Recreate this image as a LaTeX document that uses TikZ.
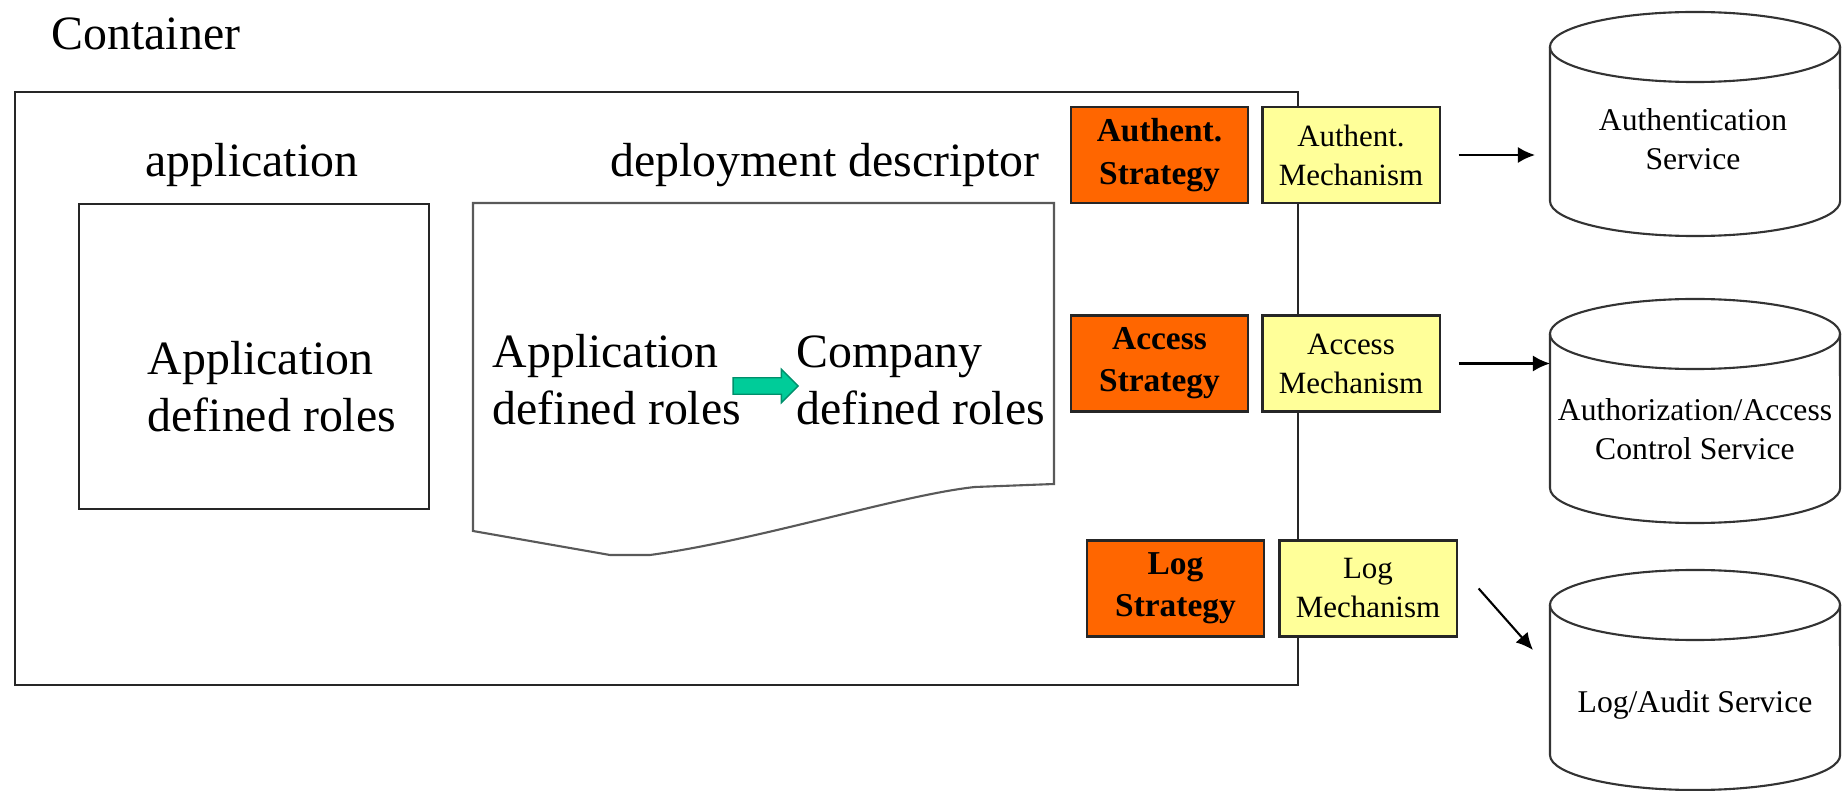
\documentclass[tikz,border=0pt]{standalone}
\usepackage{fontspec}
\setmainfont{Liberation Serif}
\usetikzlibrary{arrows.meta, shapes.arrows}

\definecolor{stratorange}{HTML}{FF6600}
\definecolor{mechyellow}{HTML}{FFFF99}
\definecolor{mapgreen}{HTML}{00CC99}

\tikzset{
    box/.style={draw=black!85, line width=0.6pt, inner sep=0pt},
    strategy/.style={box, fill=stratorange, minimum width=1.77cm, minimum height=0.96cm,
        align=center, font=\fontsize{9.5}{12}\selectfont\bfseries},
    mechanism/.style={box, fill=mechyellow, minimum width=1.77cm, minimum height=0.96cm,
        align=center, font=\fontsize{8.8}{11.1}\selectfont},
    bigtext/.style={inner sep=0pt, font=\fontsize{13.6}{16.2}\selectfont},
    svctext/.style={inner sep=0pt, align=center, font=\fontsize{9}{11.1}\selectfont},
    svcline/.style={draw=black!80, line width=0.6pt},
    conn/.style={black, line width=0.6pt},
}

\begin{document}
\begin{tikzpicture}[x=0.01cm, y=-0.01cm, >={Latex[length=0.17cm, width=0.16cm]}]
    \useasboundingbox (0,0) rectangle (1847,791);

    % container frame and title
    \node[bigtext, anchor=base west] (contlabel) at (51,50) {Container};
    \node[box, anchor=north west, minimum width=12.82cm, minimum height=5.93cm] (container) at (14,91) {};

    % application
    \node[bigtext, anchor=base] (applabel) at (252,177) {application};
    \node[box, anchor=north west, minimum width=3.5cm, minimum height=3.05cm] (appbox) at (78,203) {};
    \node[bigtext, align=left, anchor=west] (approles) at (147,387) {Application\\defined roles};

    % deployment descriptor sheet
    \node[bigtext, anchor=base] (ddlabel) at (825,177) {deployment descriptor};
    \draw[line width=0.6pt, black!65] (473,203) -- (1054,203) -- (1054,484) -- (975,487)
        .. controls (900,495) and (760,540) .. (650,555) -- (610,555) -- (473,531) -- cycle;
    \node[bigtext, align=left, anchor=west] (ddapp) at (492,380) {Application\\defined roles};
    \node[bigtext, align=left, anchor=west] (ddcomp) at (796,380) {Company\\defined roles};
    \node[single arrow, fill=mapgreen, draw=mapgreen!70!black, line width=0.4pt,
        inner xsep=0pt, inner ysep=0.075cm, minimum height=0.65cm,
        single arrow head extend=0.085cm, single arrow head indent=0pt] (rolemap) at (761.5,386) {};

    % strategies and mechanisms
    \node[strategy] (authstrat) at (1159.5,155) {Authent.\\Strategy};
    \node[mechanism] (authmech) at (1351,155) {Authent.\\Mechanism};
    \node[strategy] (accstrat) at (1159.5,363.5) {Access\\Strategy};
    \node[mechanism] (accmech) at (1351,363.5) {Access\\Mechanism};
    \node[strategy] (logstrat) at (1175.5,588.5) {Log\\Strategy};
    \node[mechanism] (logmech) at (1368,588.5) {Log\\Mechanism};

    % services
    \foreach \ytop/\ybot in {47/201, 334/488, 605/755} {
        \draw[svcline] (1550,\ytop) -- (1550,\ybot)
            arc[start angle=180, end angle=360, x radius=1.45cm, y radius=0.35cm] -- (1840,\ytop);
        \draw[svcline] (1695,\ytop) ellipse[x radius=1.45cm, y radius=0.35cm];
    }
    \node[svctext] (authsvc) at (1693,139) {Authentication\\Service};
    \node[svctext] (accsvc) at (1695,429) {Authorization/Access\\Control Service};
    \node[svctext] (logsvc) at (1695,705) {Log/Audit Service};

    \coordinate (authend) at (1535,155);
    \coordinate (accend) at (1550,363.5);
    \coordinate (logend) at (1533,650);
    \draw[->, conn] ([xshift=0.18cm]authmech.east) -- (authend);
    \draw[->, conn] ([xshift=0.18cm]accmech.east) -- (accend);
    \draw[->, conn] ([xshift=0.21cm]logmech.east) -- (logend);
\end{tikzpicture}
\end{document}
